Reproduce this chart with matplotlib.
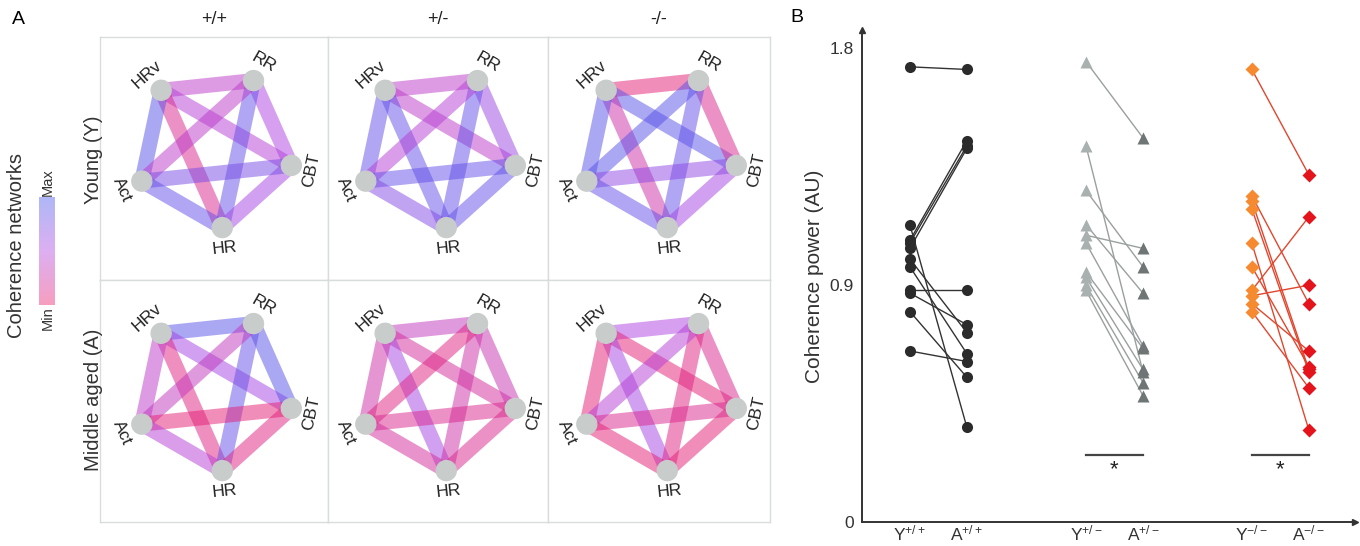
import numpy as np
import matplotlib.pyplot as plt
from matplotlib.colors import LinearSegmentedColormap
from matplotlib.patches import Circle

plt.rcParams['font.family'] = ['Liberation Sans', 'DejaVu Sans']
plt.rcParams['mathtext.fontset'] = 'custom'
plt.rcParams['mathtext.rm'] = 'Liberation Sans'
plt.rcParams['mathtext.it'] = 'Liberation Sans'

# =========================
# data
# =========================

nodes = ["HR", "CBT", "RR", "HRv", "Act"]
node_angles = [-84, -12, 60, 132, 204]

edges = [("HRv", "RR"), ("HRv", "CBT"), ("HRv", "HR"), ("HRv", "Act"),
         ("RR", "CBT"), ("RR", "HR"), ("RR", "Act"),
         ("CBT", "HR"), ("CBT", "Act"), ("HR", "Act")]

genotypes = ["+/+", "+/-", "-/-"]
ages = ["Young (Y)", "Middle aged (A)"]

# coherence per edge, 1 = Max, 0 = Min
young_wt = [0.40, 0.45, 0.15, 0.90, 0.50, 0.85, 0.40, 0.55, 0.75, 0.85]
young_het = [0.40, 0.40, 0.85, 0.85, 0.60, 0.85, 0.45, 0.85, 0.85, 0.70]
young_ko = [0.05, 0.90, 0.25, 0.90, 0.15, 0.85, 0.90, 0.55, 0.65, 0.85]
aged_wt = [0.90, 0.55, 0.10, 0.40, 0.90, 0.85, 0.35, 0.10, 0.05, 0.45]
aged_het = [0.35, 0.20, 0.55, 0.25, 0.30, 0.25, 0.10, 0.15, 0.15, 0.20]
aged_ko = [0.50, 0.05, 0.55, 0.05, 0.15, 0.10, 0.45, 0.05, 0.15, 0.05]

# coherence power, paired young -> aged
y_wt = [1.73, 1.13, 1.07, 1.06, 1.04, 1.00, 0.97, 0.88, 0.87, 0.80, 0.65]
a_wt = [1.72, 0.36, 1.45, 1.43, 1.42, 0.72, 0.64, 0.88, 0.75, 0.55, 0.61]
y_het = [1.75, 1.43, 1.26, 1.13, 1.09, 1.06, 0.95, 0.93, 0.90, 0.88]
a_het = [1.46, 0.57, 0.97, 0.87, 1.04, 0.67, 0.66, 0.58, 0.53, 0.48]
y_ko = [1.72, 1.24, 1.22, 1.19, 1.06, 0.97, 0.88, 0.86, 0.83, 0.80]
a_ko = [1.32, 0.83, 0.58, 0.57, 0.35, 0.59, 1.16, 0.90, 0.65, 0.51]

group_labels = [r"Y$^{+/+}$", r"A$^{+/+}$", r"Y$^{+/-}$", r"A$^{+/-}$",
                r"Y$^{-/-}$", r"A$^{-/-}$"]

cmap = LinearSegmentedColormap.from_list(
    "coh", ["#eb1969", "#af41e1", "#4155eb"])

W, H = 1360, 546
fig = plt.figure(figsize=(W / 100, H / 100), dpi=100)


def px_axes(x0, y0, x1, y1):
    # axes from pixel box (top-left origin)
    return fig.add_axes([x0 / W, 1 - y1 / H, (x1 - x0) / W, (y1 - y0) / H])


# =========================
# panel A: networks
# =========================

col_x = [100, 328, 548, 770]
row_y = [37, 280, 522]
panels = [[young_wt, young_het, young_ko], [aged_wt, aged_het, aged_ko]]

R = 79
for r in range(2):
    for c in range(3):
        ax = px_axes(col_x[c], row_y[r], col_x[c + 1], row_y[r + 1])
        w = col_x[c + 1] - col_x[c]
        h = row_y[r + 1] - row_y[r]
        ax.set_xlim(0, w)
        ax.set_ylim(0, h)
        ax.set_xticks([])
        ax.set_yticks([])
        for s in ax.spines.values():
            s.set_color("#d9dcdc")
            s.set_linewidth(1.0)

        cx, cy = w / 2, h - 112
        pos = {}
        for name, ang in zip(nodes, node_angles):
            t = np.deg2rad(ang)
            pos[name] = (cx + R * np.cos(t), cy + R * np.sin(t))

        for (n1, n2), v in zip(edges, panels[r][c]):
            (x1, y1), (x2, y2) = pos[n1], pos[n2]
            ax.plot([x1, x2], [y1, y2], color=cmap(v), alpha=0.5,
                    lw=10.8, solid_capstyle="butt", zorder=2)

        for name, ang in zip(nodes, node_angles):
            x, y = pos[name]
            ax.add_patch(Circle((x, y), 10, color="#c8cccb", zorder=5))
            t = np.deg2rad(ang)
            rot = ang - 90
            while rot > 90:
                rot -= 180
            while rot < -90:
                rot += 180
            ax.text(cx + 100 * np.cos(t), cy + 100 * np.sin(t), name,
                    rotation=rot, ha="center", va="center",
                    fontsize=12.5, color="#222222", zorder=6)

for c, g in enumerate(genotypes):
    fig.text((col_x[c] + col_x[c + 1]) / 2 / W, 1 - 19 / H, g,
             ha="center", va="center", fontsize=13, color="#222222")

fig.text(93 / W, 1 - 160 / H, ages[0], rotation=90, ha="center",
         va="center", fontsize=14.5, color="#333333")
fig.text(93 / W, 1 - 400 / H, ages[1], rotation=90, ha="center",
         va="center", fontsize=14.5, color="#333333")
fig.text(17 / W, 1 - 246 / H, "Coherence networks", rotation=90,
         ha="center", va="center", fontsize=14.5, color="#333333")
fig.text(18 / W, 1 - 20 / H, "A", ha="center", va="center", fontsize=14)

# colorbar
cax = px_axes(39, 197, 55, 305)
grad = np.linspace(1, 0, 100).reshape(-1, 1)
cax.imshow(grad, cmap=cmap, alpha=0.42, aspect="auto")
cax.set_axis_off()
fig.text(48 / W, 1 - 182 / H, "Max", rotation=90, ha="center",
         va="center", fontsize=10.5, color="#333333")
fig.text(48 / W, 1 - 318 / H, "Min", rotation=90, ha="center",
         va="center", fontsize=10.5, color="#333333")

# =========================
# panel B: coherence power
# =========================

bx = px_axes(862, 30, 1355, 522)
xpos = [0, 1, 3.09, 4.09, 6, 7]

groups = [
    (y_wt, a_wt, "#2b2b2b", "#2b2b2b", "#333333", "o", 8),
    (y_het, a_het, "#a9b0b0", "#6f7474", "#9a9f9f", "^", 8.5),
    (y_ko, a_ko, "#f58a30", "#e3141c", "#e2462e", "D", 7),
]

for i, (yv, av, cy_, ca, cl, mk, ms) in enumerate(groups):
    x0, x1 = xpos[2 * i], xpos[2 * i + 1]
    for a, b in zip(yv, av):
        bx.plot([x0, x1], [a, b], color=cl, lw=1.0, zorder=2)
    bx.plot([x0] * len(yv), yv, mk, color=cy_, ms=ms, mec="none", zorder=3)
    bx.plot([x1] * len(av), av, mk, color=ca, ms=ms, mec="none", zorder=3)

for i in [1, 2]:
    x0, x1 = xpos[2 * i], xpos[2 * i + 1]
    bx.plot([x0, x1], [0.255, 0.255], color="#444444", lw=1.6)
    bx.text((x0 + x1) / 2, 0.20, "*", ha="center", va="center",
            fontsize=16, color="#222222")

bx.set_xlim(-0.84, 7.81)
bx.set_ylim(0, 1.87)
bx.set_yticks([0, 0.9, 1.8])
bx.set_yticklabels(["0", "0.9", "1.8"])
bx.set_xticks(xpos)
bx.set_xticklabels(group_labels)
bx.tick_params(axis="y", length=0, labelsize=12.5, colors="#333333", pad=6)
bx.tick_params(axis="x", length=0, labelsize=12.5, colors="#333333", pad=1)
bx.spines["top"].set_visible(False)
bx.spines["right"].set_visible(False)
for s in ["left", "bottom"]:
    bx.spines[s].set_color("#333333")
    bx.spines[s].set_linewidth(1.4)
bx.plot(1, 0, ">", color="#333333", ms=5, transform=bx.transAxes,
        clip_on=False)
bx.plot(0, 1, "^", color="#333333", ms=5, transform=bx.transAxes,
        clip_on=False)
bx.set_ylabel("Coherence power (AU)", fontsize=15, color="#333333",
              labelpad=4)
fig.text(797 / W, 1 - 18 / H, "B", ha="center", va="center", fontsize=14)

fig.savefig("out.png", dpi=100)
